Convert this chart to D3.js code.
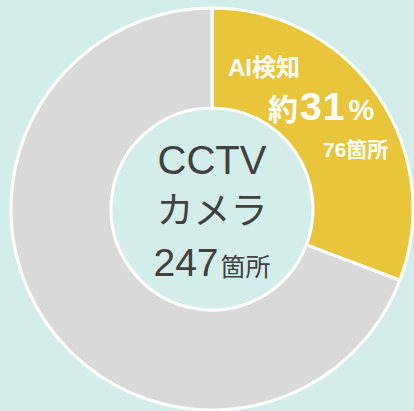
<!DOCTYPE html>
<html>
<head>
<meta charset="utf-8">
<script src="https://cdn.jsdelivr.net/npm/d3@7"></script>
<style>
  html, body { margin: 0; padding: 0; background: #d3eeea; }
  svg { display: block; }
  text { font-family: "Liberation Sans", "Noto Sans CJK JP", sans-serif; }
</style>
</head>
<body>
<svg id="chart" width="414" height="411"></svg>
<script>
const categories = ["AI検知", "その他"];
const counts = [76, 171];
const sliceColors = ["#e9c53b", "#d9d9d9"];
const totalLabel = ["CCTV", "カメラ"];
const unit = "箇所";

const width = 414, height = 411;
const cx = 212, cy = 209;
const outerR = 201, innerR = 101;

const total = d3.sum(counts);
const data = categories.map((c, i) => ({ name: c, value: counts[i] }));

const svg = d3.select("#chart");
const g = svg.append("g").attr("transform", `translate(${cx},${cy})`);

const pie = d3.pie().value(d => d.value).sort(null);
const arc = d3.arc().innerRadius(innerR).outerRadius(outerR);

g.selectAll("path")
    .data(pie(data))
    .enter()
    .append("path")
    .attr("d", arc)
    .attr("fill", (d, i) => sliceColors[i])
    .attr("stroke", "#fff")
    .attr("stroke-width", 3)
    .attr("stroke-linejoin", "round");

// center label
const center = g.append("g").attr("fill", "#404040").attr("text-anchor", "middle");
center.append("text").attr("y", -35).attr("font-size", 40).text(totalLabel[0]);
center.append("text").attr("y", 15).attr("font-size", 37)
    .attr("font-family", "'Noto Sans CJK JP', sans-serif").text(totalLabel[1]);
const tot = center.append("text").attr("y", 67);
tot.append("tspan").attr("font-size", 39).text(total);
tot.append("tspan").attr("font-size", 25).attr("dx", 2)
    .attr("font-family", "'Noto Sans CJK JP', sans-serif").text(unit);

// slice label
const pct = Math.round(counts[0] / total * 100);
const lab = g.append("g").attr("fill", "#fff").attr("font-weight", "bold");
lab.append("text").attr("x", 16).attr("y", -133).attr("font-size", 24)
    .attr("font-family", "'Noto Sans CJK JP', sans-serif").text(categories[0]);
const p = lab.append("text").attr("x", 56).attr("y", -89);
p.append("tspan").attr("font-size", 30).attr("font-family", "'Noto Sans CJK JP', sans-serif").text("約");
p.append("tspan").attr("font-size", 39).attr("dx", 2).attr("letter-spacing", 1).text(pct);
p.append("tspan").attr("font-size", 29).attr("dx", 3).text("%");
const n = lab.append("text").attr("x", 111).attr("y", -52);
n.append("tspan").attr("font-size", 21).text(counts[0]);
n.append("tspan").attr("font-size", 21).attr("font-family", "'Noto Sans CJK JP', sans-serif").text(unit);
</script>
</body>
</html>
